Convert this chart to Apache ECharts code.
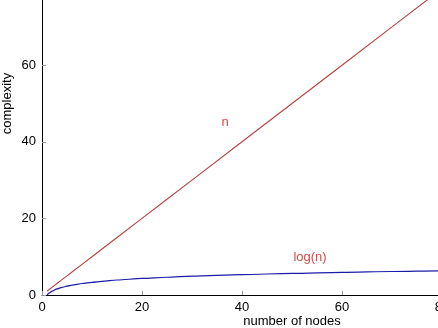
<!DOCTYPE html>
<html><head><meta charset="utf-8">
<script src="https://cdn.jsdelivr.net/npm/echarts@6/dist/echarts.min.js"></script>
<style>html,body{margin:0;padding:0;background:#fff}#c{width:438px;height:328px}</style>
</head><body><div id="c"></div>
<script>
const nodes = [1, 1.5, 2, 3, 4, 5, 6, 8, 10, 12, 15, 20, 25, 30, 40, 50, 60, 70, 80, 90, 100];
const linearN = [1, 1.5, 2, 3, 4, 5, 6, 8, 10, 12, 15, 20, 25, 30, 40, 50, 60, 70, 80, 90, 100];
const logN = [0, 0.58, 1, 1.58, 2, 2.32, 2.58, 3, 3.32, 3.58, 3.91, 4.32, 4.64, 4.91, 5.32, 5.64, 5.91, 6.13, 6.32, 6.49, 6.64];
const xTicks = [0, 20, 40, 60, 80, 100];
const yTicks = [0, 20, 40, 60, 80, 100];
const labelN = {text: 'n', x: 36.6, y: 45};
const labelLog = {text: 'log(n)', x: 53.6, y: 9.7};

const font = 'Liberation Sans, Arial, Helvetica, sans-serif';
const chart = echarts.init(document.getElementById('c'), null, {renderer: 'canvas'});
const axisCommon = {
  min: 0, max: 100, interval: 20,
  axisLine: {show: true, lineStyle: {color: '#000', width: 1}},
  axisTick: {show: true, inside: true, length: 4, lineStyle: {color: '#999'}},
  splitLine: {show: false},
  axisLabel: {color: '#000', fontSize: 13, fontFamily: font, margin: 6, hideOverlap: false, showMaxLabel: true, showMinLabel: true},
  nameLocation: 'middle',
  nameMoveOverlap: false,
  nameTextStyle: {color: '#000', fontSize: 13, fontFamily: font}
};
const markLabel = (t) => ({
  symbol: 'circle', symbolSize: 1,
  itemStyle: {color: 'rgba(0,0,0,0)'},
  label: {show: true, color: '#d84848', fontSize: 13, fontFamily: font, position: 'inside', formatter: t.text},
  data: [{coord: [t.x, t.y], value: t.text}]
});
chart.setOption({
  animation: false,
  grid: {left: 42, top: -88, right: -104, bottom: 33, outerBoundsMode: 'none', containLabel: false},
  xAxis: Object.assign({}, axisCommon, {type: 'value', name: 'number of nodes', nameGap: 20}),
  yAxis: Object.assign({}, axisCommon, {type: 'value', name: 'complexity', nameGap: 28}),
  series: [
    {
      type: 'line', name: 'n', showSymbol: false,
      data: nodes.map((x, i) => [x, linearN[i]]),
      lineStyle: {color: '#b84040', width: 1.1},
      itemStyle: {color: '#b84040'},
      markPoint: markLabel(labelN)
    },
    {
      type: 'line', name: 'log(n)', showSymbol: false, smooth: 0.3, smoothMonotone: 'x',
      data: nodes.map((x, i) => [x, logN[i]]),
      lineStyle: {color: '#1c1ca8', width: 1.2},
      itemStyle: {color: '#1c1ca8'},
      markPoint: markLabel(labelLog)
    }
  ]
});
</script>
</body></html>
